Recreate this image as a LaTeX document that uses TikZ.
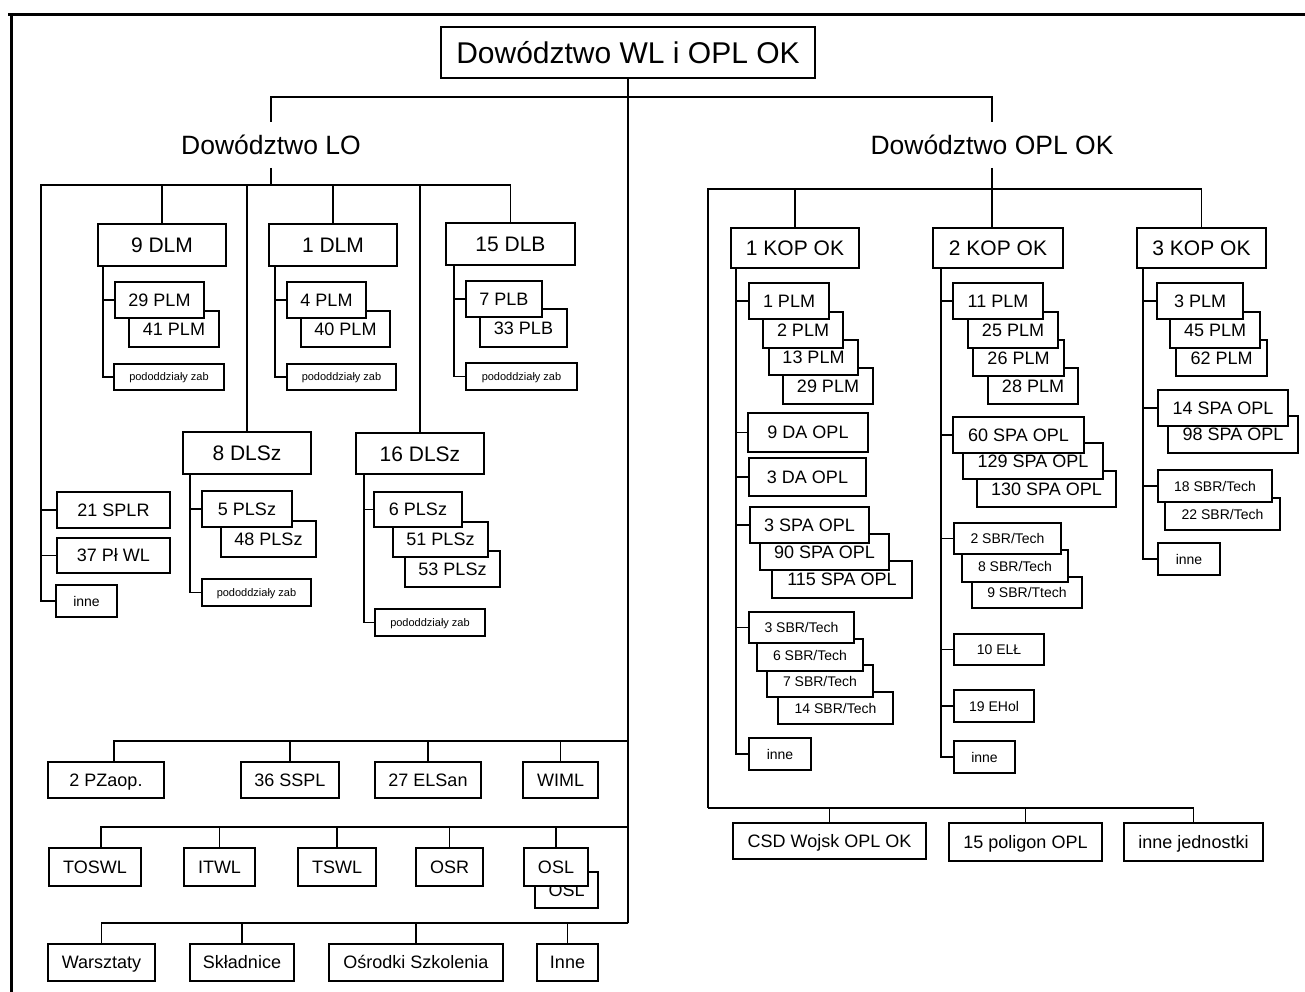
\documentclass[tikz,border=0pt]{standalone}
\usepackage{fontspec}
\setmainfont{Liberation Sans}

% box given by its corners (x1,y1)-(x2,y2): style, name, x1, y1, x2, y2, text
\newcommand\orgbox[7]{%
  \pgfmathsetmacro\obw{#5-(#3)}%
  \pgfmathsetmacro\obh{#6-(#4)}%
  \pgfmathsetmacro\obx{(#3+#5)/2}%
  \pgfmathsetmacro\oby{(#4+#6)/2}%
  \node[unit,#1,minimum width=\obw pt,minimum height=\obh pt] (#2) at (\obx,\oby) {#7};}

% vertical feeder under a parent box: parent, offset, last child, other children
\newcommand\branch[4]{%
  \coordinate (#1-col) at ([xshift=#2pt]#1.south west);
  \draw[link] (#1-col) |- (#3.west);
  \foreach \s in {#4} {\draw[link] (#1-col |- \s.west) -- (\s.west);}}

\begin{document}
\begin{tikzpicture}[x=1pt,y=-1pt,
  unit/.style={draw, fill=white, line width=1.3pt, inner sep=0pt, outer sep=0pt, align=center},
  ftitle/.style={font=\fontsize{30}{36}\selectfont, text height=21.5pt, text depth=0pt},
  fcmd/.style={font=\fontsize{26.5}{32}\selectfont},
  fbig/.style={font=\fontsize{21}{25}\selectfont, text height=15pt, text depth=0pt},
  fmid/.style={font=\fontsize{18}{22}\selectfont, text height=12.9pt, text depth=0pt},
  fsmall/.style={font=\fontsize{14}{17}\selectfont, text height=10pt, text depth=0pt},
  ftiny/.style={font=\fontsize{11}{13}\selectfont, text height=7.9pt, text depth=0pt},
  link/.style={line width=1.3pt},
  frameline/.style={line width=3pt}]

\fill[white] (0,0) rectangle (1305,992);
\useasboundingbox (0,0) rectangle (1305,992);

% page frame
\draw[frameline] (8,15) -- (1305,15);
\draw[frameline] (11.5,15) -- (11.5,992);

% ---------- top ----------
\orgbox{ftitle}{title}{441}{27}{815}{78}{Dowództwo WL i OPL OK}
\node[fcmd, inner sep=0pt, outer sep=0pt, minimum height=46pt] (lo) at (271,145) {Dowództwo LO};
\node[fcmd, inner sep=0pt, outer sep=0pt, minimum height=46pt] (oplok) at (992,145) {Dowództwo OPL OK};

% ---------- Dowództwo LO ----------
\orgbox{fbig}{dlm9}{98}{224}{226}{266}{9 DLM}
\orgbox{fbig}{dlm1}{269}{224}{397}{266}{1 DLM}
\orgbox{fbig}{dlb15}{446}{223}{575}{265}{15 DLB}
\orgbox{fbig}{dlsz8}{183}{432}{311}{474}{8 DLSz}
\orgbox{fbig}{dlsz16}{356}{433}{484}{474}{16 DLSz}

\orgbox{fmid}{plm41}{129}{311}{219}{347}{41 PLM}
\orgbox{fmid}{plm29a}{115}{282}{204}{318}{29 PLM}
\orgbox{ftiny}{podA}{114}{364}{224}{390}{pododdziały zab}

\orgbox{fmid}{plm40}{301}{311}{390}{347}{40 PLM}
\orgbox{fmid}{plm4}{287}{282}{366}{318}{4 PLM}
\orgbox{ftiny}{podB}{287}{364}{396}{390}{pododdziały zab}

\orgbox{fmid}{plb33}{480}{309}{567}{347}{33 PLB}
\orgbox{fmid}{plb7}{466}{281}{542}{317}{7 PLB}
\orgbox{ftiny}{podC}{466}{363}{577}{390}{pododdziały zab}

\orgbox{fmid}{plsz48}{221}{521}{316}{557}{48 PLSz}
\orgbox{fmid}{plsz5}{202}{491}{292}{527}{5 PLSz}
\orgbox{ftiny}{podD}{202}{579}{311}{606}{pododdziały zab}

\orgbox{fmid}{plsz53}{405}{551}{500}{587}{53 PLSz}
\orgbox{fmid}{plsz51}{393}{522}{488}{557}{51 PLSz}
\orgbox{fmid}{plsz6}{374}{492}{462}{527}{6 PLSz}
\orgbox{ftiny}{podE}{375}{609}{485}{636}{pododdziały zab}

\orgbox{fmid}{splr21}{57}{492}{170}{528}{21 SPLR}
\orgbox{fmid}{plwl37}{57}{538}{170}{573}{37 Pł WL}
\orgbox{fsmall}{inneLO}{56}{585}{117}{617}{inne}

% ---------- units under the top command ----------
\orgbox{fmid}{pzaop}{48}{762}{164}{798}{2 PZaop.}
\orgbox{fmid}{sspl}{241}{762}{339}{798}{36 SSPL}
\orgbox{fmid}{elsan}{375}{762}{481}{798}{27 ELSan}
\orgbox{fmid}{wiml}{523}{762}{598}{798}{WIML}

\orgbox{fmid}{toswl}{49}{848}{141}{886}{TOSWL}
\orgbox{fmid}{itwl}{184}{848}{255}{886}{ITWL}
\orgbox{fmid}{tswl}{298}{848}{376}{886}{TSWL}
\orgbox{fmid}{osr}{416}{848}{483}{886}{OSR}
\orgbox{fmid}{oslb}{535}{872}{598}{908}{OSL}
\orgbox{fmid}{osl}{524}{848}{588}{886}{OSL}

\orgbox{fmid}{warsz}{48}{944}{155}{981}{Warsztaty}
\orgbox{fmid}{skladn}{190}{944}{294}{981}{Składnice}
\orgbox{fmid}{osrodki}{329}{944}{503}{981}{Ośrodki Szkolenia}
\orgbox{fmid}{inneB}{537}{944}{598}{981}{Inne}

% ---------- Dowództwo OPL OK ----------
\orgbox{fbig}{kop1}{731}{228}{859}{268}{1 KOP OK}
\orgbox{fbig}{kop2}{933}{228}{1063}{268}{2 KOP OK}
\orgbox{fbig}{kop3}{1137}{228}{1266}{268}{3 KOP OK}

% 1 KOP OK
\orgbox{fmid}{plm29b}{783}{368}{873}{404}{29 PLM}
\orgbox{fmid}{plm13}{769}{340}{858}{375}{13 PLM}
\orgbox{fmid}{plm2}{763}{312}{843}{348}{2 PLM}
\orgbox{fmid}{plm1}{749}{283}{829}{319}{1 PLM}
\orgbox{fmid}{da9}{748}{413}{868}{452}{9 DA OPL}
\orgbox{fmid}{da3}{749}{458}{866}{496}{3 DA OPL}
\orgbox{fmid}{spa115}{772}{561}{912}{598}{115 SPA OPL}
\orgbox{fmid}{spa90}{760}{534}{889}{570}{90 SPA OPL}
\orgbox{fmid}{spa3}{750}{507}{869}{543}{3 SPA OPL}
\orgbox{fsmall}{sbr14}{778}{692}{893}{724}{14 SBR/Tech}
\orgbox{fsmall}{sbr7}{767}{665}{873}{697}{7 SBR/Tech}
\orgbox{fsmall}{sbr6}{757}{639}{863}{671}{6 SBR/Tech}
\orgbox{fsmall}{sbr3}{749}{612}{854}{643}{3 SBR/Tech}
\orgbox{fsmall}{inneK1}{749}{738}{811}{770}{inne}

% 2 KOP OK
\orgbox{fmid}{plm28}{988}{368}{1078}{404}{28 PLM}
\orgbox{fmid}{plm26}{973}{340}{1064}{376}{26 PLM}
\orgbox{fmid}{plm25}{968}{312}{1058}{348}{25 PLM}
\orgbox{fmid}{plm11}{953}{283}{1043}{319}{11 PLM}
\orgbox{fmid}{spa130}{977}{471}{1116}{507}{130 SPA OPL}
\orgbox{fmid}{spa129}{963}{443}{1103}{479}{129 SPA OPL}
\orgbox{fmid}{spa60}{953}{417}{1084}{453}{60 SPA OPL}
\orgbox{fsmall}{sbr9}{972}{577}{1082}{608}{9 SBR/Ttech}
\orgbox{fsmall}{sbr8}{962}{550}{1068}{582}{8 SBR/Tech}
\orgbox{fsmall}{sbr2}{954}{523}{1061}{554}{2 SBR/Tech}
\orgbox{fsmall}{ell10}{954}{634}{1044}{665}{10 ELŁ}
\orgbox{fsmall}{ehol19}{954}{690}{1034}{722}{19 EHol}
\orgbox{fsmall}{inneK2}{954}{741}{1015}{773}{inne}

% 3 KOP OK
\orgbox{fmid}{plm62}{1176}{340}{1267}{376}{62 PLM}
\orgbox{fmid}{plm45}{1170}{312}{1260}{348}{45 PLM}
\orgbox{fmid}{plm3}{1157}{283}{1243}{319}{3 PLM}
\orgbox{fmid}{spa98}{1168}{416}{1298}{453}{98 SPA OPL}
\orgbox{fmid}{spa14}{1158}{390}{1288}{426}{14 SPA OPL}
\orgbox{fsmall}{sbr22}{1165}{498}{1280}{530}{22 SBR/Tech}
\orgbox{fsmall}{sbr18}{1158}{470}{1272}{502}{18 SBR/Tech}
\orgbox{fsmall}{inneK3}{1158}{543}{1220}{575}{inne}

% units under Dowództwo OPL OK
\orgbox{fmid}{csd}{733}{823}{926}{859}{CSD Wojsk OPL OK}
\orgbox{fmid}{poligon}{949}{823}{1102}{861}{15 poligon OPL}
\orgbox{fmid}{innej}{1124}{823}{1263}{861}{inne jednostki}

% ---------- connectors ----------
\coordinate (tbus) at (628,97);
\draw[link] (tbus) -| (lo.north);
\draw[link] (tbus) -| (oplok.north);

% main spine and its three buses
\coordinate (r1) at (628,741);
\coordinate (r2) at (628,827);
\coordinate (r3) at (628,923);
\draw[link] (title.south) -- (r3);
\draw[link] (r1) -| ([xshift=8pt]pzaop.north);
\draw[link] (r1) -| (sspl.north);
\draw[link] (r1) -| (elsan.north);
\draw[link] (r1) -| (wiml.north);
\draw[link] (r2) -| ([xshift=6pt]toswl.north);
\draw[link] (r2) -| (itwl.north);
\draw[link] (r2) -| (tswl.north);
\draw[link] (r2) -| (osr.north);
\draw[link] (r2) -| (osl.north);
\draw[link] (r3) -| (warsz.north);
\draw[link] (r3) -| (skladn.north);
\draw[link] (r3) -| (osrodki.north);
\draw[link] (r3) -| (inneB.north);

% Dowództwo LO bus
\coordinate (lobus) at (271,185);
\coordinate (locol) at (41,185);
\draw[link] (lo.south) -- (lobus);
\draw[link] (lobus) -| (dlm9.north);
\draw[link] (lobus) -| (dlsz8.north);
\draw[link] (lobus) -| (dlm1.north);
\draw[link] (lobus) -| (dlsz16.north);
\draw[link] (lobus) -| (dlb15.north);
\draw[link] (lobus) -- (locol) |- (inneLO.west);
\foreach \s in {splr21,plwl37} {\draw[link] (locol |- \s.west) -- (\s.west);}

\branch{dlm9}{5}{podA}{plm29a}
\branch{dlm1}{6}{podB}{plm4}
\branch{dlb15}{8}{podC}{plb7}
\branch{dlsz8}{7}{podD}{plsz5}
\branch{dlsz16}{8}{podE}{plsz6}

% Dowództwo OPL OK bus
\coordinate (rbus) at (992,189);
\coordinate (rcol) at (708,189);
\coordinate (rbot) at (708,808);
\draw[link] (oplok.south) -- (oplok.south |- kop2.north);
\draw[link] (rbus) -| (kop1.north);
\draw[link] (rbus) -| (kop3.north);
\draw[link] (rbus) -- (rcol) -- (rbot);
\draw[link] (rbot) -| (csd.north);
\draw[link] (rbot) -| (poligon.north);
\draw[link] (rbot) -| (innej.north);

\branch{kop1}{5}{inneK1}{plm1,da9,da3,spa3,sbr3}
\branch{kop2}{8}{inneK2}{plm11,spa60,sbr2,ell10,ehol19}
\branch{kop3}{6}{inneK3}{plm3,spa14,sbr18}

\end{tikzpicture}
\end{document}
